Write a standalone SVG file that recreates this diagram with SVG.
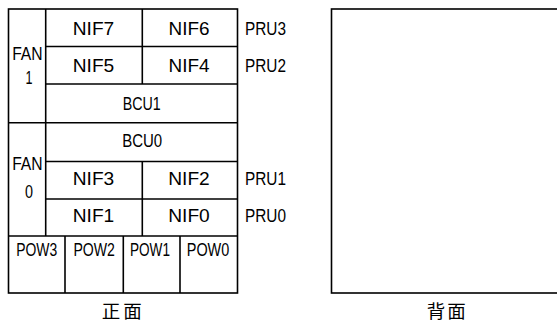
<svg xmlns="http://www.w3.org/2000/svg" width="557" height="324" viewBox="0 0 557 324">
<style>
.ln{fill:none;stroke:#000;stroke-width:1.6}
.t{font-family:"Liberation Sans",Arial,sans-serif;font-size:19px;fill:#000;text-anchor:middle}
.c{font-family:"Noto Sans CJK JP","Noto Sans CJK SC",sans-serif;font-size:18.5px;fill:#000;text-anchor:middle}
</style>
<rect width="557" height="324" fill="#fff"/>
<g id="front">
<rect class="ln" x="8.5" y="9" width="229" height="284"/>
<line class="ln" x1="45.7" y1="9" x2="45.7" y2="236"/>
<line class="ln" x1="45.7" y1="46.5" x2="237.5" y2="46.5"/>
<line class="ln" x1="45.7" y1="84" x2="237.5" y2="84"/>
<line class="ln" x1="8.5" y1="122.7" x2="237.5" y2="122.7"/>
<line class="ln" x1="45.7" y1="161.5" x2="237.5" y2="161.5"/>
<line class="ln" x1="45.7" y1="199" x2="237.5" y2="199"/>
<line class="ln" x1="8.5" y1="236" x2="237.5" y2="236"/>
<line class="ln" x1="142.3" y1="9" x2="142.3" y2="84"/>
<line class="ln" x1="142.3" y1="161.5" x2="142.3" y2="236"/>
<line class="ln" x1="65" y1="236" x2="65" y2="293"/>
<line class="ln" x1="123.3" y1="236" x2="123.3" y2="293"/>
<line class="ln" x1="180" y1="236" x2="180" y2="293"/>
</g>
<g id="fan1"><text class="t" x="27.4" y="60" textLength="30.5" lengthAdjust="spacingAndGlyphs">FAN</text><text class="t" x="29" y="84" textLength="7" lengthAdjust="spacingAndGlyphs">1</text></g>
<g id="fan0"><text class="t" x="27.4" y="170" textLength="30.5" lengthAdjust="spacingAndGlyphs">FAN</text><text class="t" x="29" y="198" textLength="8" lengthAdjust="spacingAndGlyphs">0</text></g>
<g id="nif7"><text class="t" x="93.5" y="35" textLength="41.5" lengthAdjust="spacingAndGlyphs">NIF7</text></g>
<g id="nif6"><text class="t" x="189" y="35" textLength="41" lengthAdjust="spacingAndGlyphs">NIF6</text></g>
<g id="nif5"><text class="t" x="93.5" y="72" textLength="41.5" lengthAdjust="spacingAndGlyphs">NIF5</text></g>
<g id="nif4"><text class="t" x="189" y="72" textLength="41" lengthAdjust="spacingAndGlyphs">NIF4</text></g>
<g id="bcu1"><text class="t" x="141.7" y="110" textLength="38" lengthAdjust="spacingAndGlyphs">BCU1</text></g>
<g id="bcu0"><text class="t" x="142.2" y="147" textLength="40" lengthAdjust="spacingAndGlyphs">BCU0</text></g>
<g id="nif3"><text class="t" x="93.5" y="185" textLength="41.5" lengthAdjust="spacingAndGlyphs">NIF3</text></g>
<g id="nif2"><text class="t" x="189" y="185" textLength="41.5" lengthAdjust="spacingAndGlyphs">NIF2</text></g>
<g id="nif1"><text class="t" x="93.5" y="222" textLength="41.5" lengthAdjust="spacingAndGlyphs">NIF1</text></g>
<g id="nif0"><text class="t" x="189" y="222" textLength="41.5" lengthAdjust="spacingAndGlyphs">NIF0</text></g>
<g id="pow3"><text class="t" x="36.7" y="256" textLength="41" lengthAdjust="spacingAndGlyphs">POW3</text></g>
<g id="pow2"><text class="t" x="94.2" y="256" textLength="41.5" lengthAdjust="spacingAndGlyphs">POW2</text></g>
<g id="pow1"><text class="t" x="150" y="256" textLength="40" lengthAdjust="spacingAndGlyphs">POW1</text></g>
<g id="pow0"><text class="t" x="208" y="256" textLength="42.5" lengthAdjust="spacingAndGlyphs">POW0</text></g>
<g id="pru3"><text class="t" x="265.5" y="35" textLength="41" lengthAdjust="spacingAndGlyphs">PRU3</text></g>
<g id="pru2"><text class="t" x="265.5" y="72" textLength="41" lengthAdjust="spacingAndGlyphs">PRU2</text></g>
<g id="pru1"><text class="t" x="265.5" y="185" textLength="41" lengthAdjust="spacingAndGlyphs">PRU1</text></g>
<g id="pru0"><text class="t" x="265.5" y="222" textLength="41" lengthAdjust="spacingAndGlyphs">PRU0</text></g>
<g id="back"><rect class="ln" x="331.5" y="9" width="240" height="284"/></g>
<text class="c" x="121.7" y="318" textLength="40" lengthAdjust="spacing">正面</text>
<text class="c" x="446.2" y="318" textLength="39" lengthAdjust="spacing">背面</text>
<g id="connectors"></g>
</svg>
